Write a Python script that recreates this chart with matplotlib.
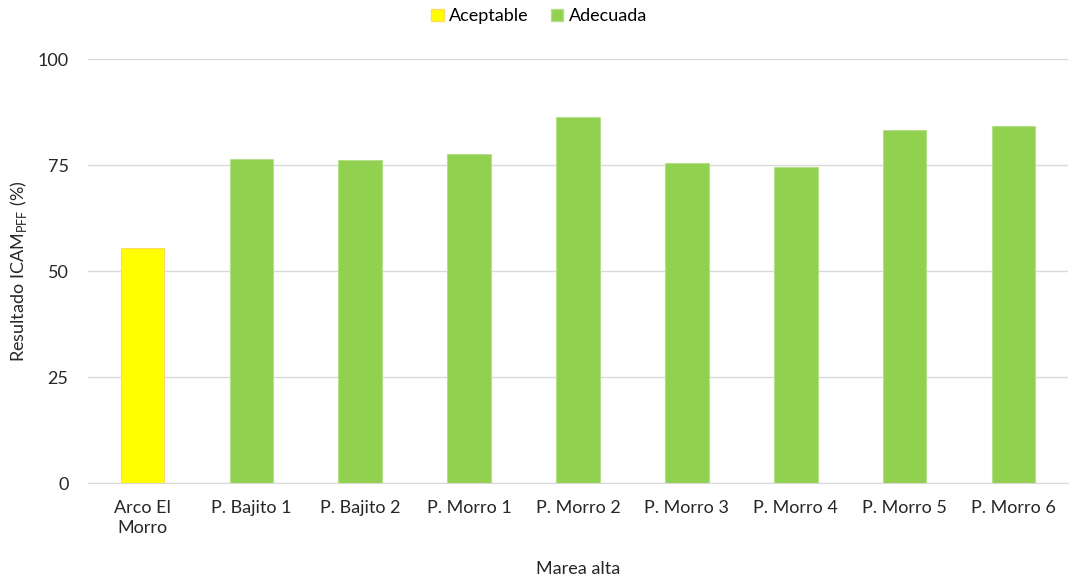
import matplotlib
matplotlib.use("Agg")
from matplotlib import pyplot as plt
from matplotlib.patches import Patch

plt.rcParams['font.family'] = ['Lato', 'DejaVu Sans']

sitios = ['Arco El\nMorro', 'P. Bajito 1', 'P. Bajito 2', 'P. Morro 1', 'P. Morro 2',
          'P. Morro 3', 'P. Morro 4', 'P. Morro 5', 'P. Morro 6']
icam = [55.4, 76.5, 76.1, 77.7, 86.4, 75.5, 74.6, 83.3, 84.1]
categoria = ['Aceptable', 'Adecuada', 'Adecuada', 'Adecuada', 'Adecuada',
             'Adecuada', 'Adecuada', 'Adecuada', 'Adecuada']

colores = {'Aceptable': '#FFFF00', 'Adecuada': '#92D050'}
bordes = {'Aceptable': '#FFD966', 'Adecuada': '#B5E08A'}

fig = plt.figure(figsize=(10.78, 5.82), dpi=100)
ax = fig.add_axes([0.0816, 0.1701, 0.9091, 0.7285])

x = range(len(sitios))
ax.bar(x, icam, width=0.4,
       color=[colores[c] for c in categoria],
       edgecolor=[bordes[c] for c in categoria], linewidth=0.8, zorder=3)

ax.set_xlim(-0.5, len(sitios) - 0.5)
ax.set_ylim(0, 100)
ax.set_yticks([0, 25, 50, 75, 100])
ax.set_xticks(list(x))
ax.set_xticklabels(sitios, fontsize=13, color='#262626', linespacing=1.3)
ax.tick_params(axis='y', labelsize=13, labelcolor='#262626', length=0, pad=14)
ax.tick_params(axis='x', length=0, pad=12)
ax.grid(axis='y', color='#d9d9d9', linewidth=1, zorder=0)

for s in ['top', 'right', 'left']:
    ax.spines[s].set_visible(False)
ax.spines['bottom'].set_color('#d9d9d9')

ax.set_ylabel(r'Resultado ICAM$_{\mathregular{PFF}}$ (%)', fontsize=13, color='#262626', labelpad=6)
ax.set_xlabel('Marea alta', fontsize=13, color='#262626', labelpad=18)

handles = [Patch(facecolor=colores[k], edgecolor=bordes[k], label=k) for k in ['Aceptable', 'Adecuada']]
fig.legend(handles=handles, loc='center', bbox_to_anchor=(0.5, 0.972), ncol=2, frameon=False,
           fontsize=13, handlelength=0.7, handleheight=0.7, handletextpad=0.3, columnspacing=1.2)

plt.savefig('out.png', dpi=100)
